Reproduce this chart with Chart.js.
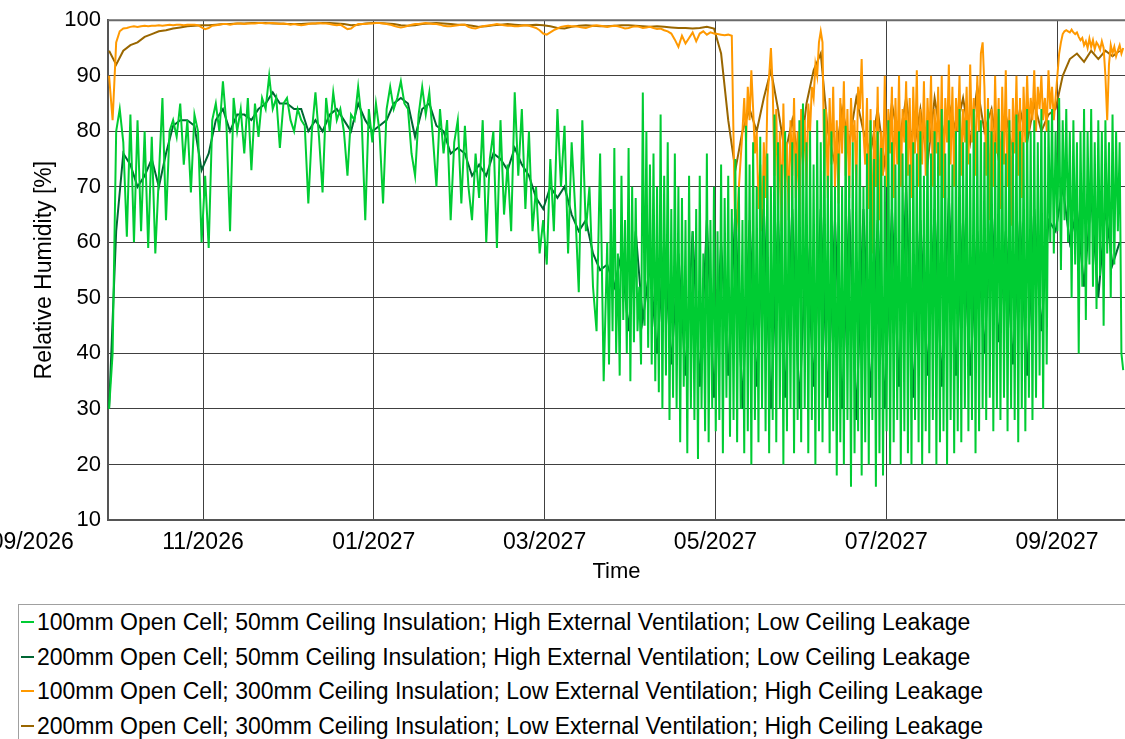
<!DOCTYPE html>
<html lang="en">
<head>
  <meta charset="UTF-8">
  <title>Relative Humidity - Open Cell roof cases</title>
  <script src="https://cdn.jsdelivr.net/npm/chart.js"></script>
  <style>
    body {
      margin: 0;
      width: 1125px;
      height: 739px;
      overflow: hidden;
      position: relative;
      background: #fff;
      font-family: 'Liberation Sans', Arial, sans-serif;
    }
    #chart-box {
      position: absolute;
      left: 0;
      top: 0;
      width: 1125px;
      height: 600px;
    }
    .legend {
      position: absolute;
      left: 18px;
      top: 604px;
      width: 1200px;
      height: 160px;
      border: 1px solid #a0a0a0;
    }
    .legend-row {
      position: absolute;
      left: 0;
      height: 26px;
      line-height: 26px;
      font-size: 23px;
      color: #000;
      white-space: nowrap;
    }
    .legend-mark {
      position: absolute;
      left: 2px;
      top: 12px;
      width: 13px;
      height: 2px;
    }
    .legend-text {
      position: absolute;
      left: 18px;
      top: 0;
    }
  </style>
</head>
<body>

<div id="chart-box">
  <canvas id="chart" width="1125" height="600"></canvas>
</div>
<div class="legend" id="legend"></div>

<script>
  // time axis in months counted from 09/2026
  const T0 = 0.9;
  const X_MIN = 0.8876;
  const X_MAX = 12.796;

  const tickMonths = [0, 2, 4, 6, 8, 10, 12];
  const tickLabels = ['09/2026', '11/2026', '01/2027', '03/2027', '05/2027', '07/2027', '09/2027'];
  const yTicks = [10, 20, 30, 40, 50, 60, 70, 80, 90, 100];

  const seriesLabels = [
    '100mm Open Cell; 50mm Ceiling Insulation; High External Ventilation; Low Ceiling Leakage',
    '200mm Open Cell; 50mm Ceiling Insulation; High External Ventilation; Low Ceiling Leakage',
    '100mm Open Cell; 300mm Ceiling Insulation; Low External Ventilation; High Ceiling Leakage',
    '200mm Open Cell; 300mm Ceiling Insulation; Low External Ventilation; High Ceiling Leakage'
  ];
  const seriesColors = ['#00cc33', '#006633', '#ff9900', '#996600'];

  // 100mm / 50mm / high vent: RH [%] every 1/24 month from T0
  const rh100VentCool = [
    30, 40, 80, 84, 78, 61, 83, 60, 82, 62,
    80, 59, 79, 58, 72, 86, 64, 80, 82, 79,
    85, 74, 82, 69, 83, 80, 60, 72, 59, 82,
    85, 80, 89, 81, 62, 86, 80, 84, 76, 86,
    73, 85, 79, 86, 84, 90, 84, 86, 77, 85,
    86, 82, 80, 84, 82, 81, 67, 80, 87, 79,
    69, 86, 80, 87, 82, 84, 80, 72, 83, 82,
    88, 82, 64, 84, 78, 85, 80, 67, 84, 88,
    84, 86, 89, 85, 84, 76, 72, 83, 88, 83,
    87, 79, 70, 84, 76, 82, 64, 78, 82, 67,
    81, 70, 64, 76, 68, 82, 60, 75, 80, 59,
    82, 65, 74, 62, 87, 72, 84, 66, 80, 62,
    70, 58, 64, 56, 75, 62, 84, 70, 81, 58,
    78, 66, 51, 82, 62, 70, 52, 44, 76, 35
  ];
  // then every 1/48 month from month 6.7333
  const GREEN_WARM_START = 6.7333;
  const rh100VentWarm = [
    60, 38, 66, 44, 77, 40, 58, 36, 72, 46,
    64, 40, 77, 35, 70, 42, 68, 44, 52, 38,
    87, 45, 80, 41, 74, 38, 76, 35, 70, 33,
    83, 30, 72, 36, 78, 28, 66, 32, 76, 30,
    70, 24, 68, 34, 64, 22, 72, 30, 62, 28,
    66, 21, 72, 30, 58, 26, 76, 24, 64, 30,
    70, 26, 62, 28, 74, 22, 68, 32, 72, 25,
    66, 28, 75, 24, 70, 30, 64, 22, 81, 26,
    74, 20, 78, 28, 70, 24, 79, 30, 72, 26,
    76, 22, 70, 28, 83, 24, 78, 30, 74, 20,
    80, 26, 72, 30, 78, 22, 76, 28, 82, 24,
    85, 30, 78, 22, 80, 28, 74, 20, 82, 26,
    78, 24, 84, 30, 72, 22, 80, 26, 70, 18,
    76, 24, 70, 20, 81, 28, 72, 16, 78, 22,
    74, 26, 80, 18, 70, 24, 76, 20, 82, 28,
    75, 16, 80, 22, 77, 18, 72, 26, 82, 20,
    78, 24, 74, 28, 80, 20, 76, 26, 82, 22,
    74, 20, 78, 28, 76, 24, 80, 20, 72, 26,
    82, 22, 76, 28, 80, 20, 78, 24, 84, 26,
    76, 20, 82, 28, 74, 22, 80, 26, 84, 24,
    78, 30, 82, 26, 76, 28, 84, 22, 80, 26,
    82, 30, 78, 28, 84, 32, 80, 26, 78, 30,
    84, 28, 80, 32, 76, 26, 82, 30, 78, 28,
    83, 24, 80, 30, 78, 26, 84, 32, 80, 28,
    82, 32, 78, 36, 84, 30, 80, 38, 82, 60,
    84, 58, 80, 62, 86, 55, 82, 64, 84, 60,
    80, 50, 82, 56, 78, 40, 80, 52, 84, 46,
    80, 56, 84, 52, 78, 48, 82, 54, 80, 45,
    82, 58, 78, 50, 83, 56, 80, 62, 78, 40,
    37
  ];

  // 200mm / 50mm / high vent: RH [%] every 1/12 month from T0
  const rh200Vent = [
    30, 62, 76, 74, 70, 72, 75, 70, 76, 81,
    82, 82, 81, 73, 76, 82, 84, 80, 83, 83,
    82, 84, 85, 87, 85, 85, 84, 84, 80, 82,
    80, 83, 84, 82, 80, 85, 82, 80, 81, 82,
    85, 86, 85, 79, 84, 85, 81, 80, 76, 77,
    76, 72, 74, 72, 76, 75, 73, 77, 74, 72,
    68, 66, 70, 68, 70, 65, 62, 64, 58, 55,
    56, 52, 58, 44, 62, 46, 56, 40, 60, 38,
    58, 36, 62, 34, 64, 32, 60, 36, 66, 30,
    64, 34, 66, 30, 64, 32, 66, 30, 62, 34,
    66, 32, 64, 30, 66, 28, 66, 32, 64, 30,
    66, 34, 70, 32, 64, 36, 66, 34, 68, 36,
    64, 36, 62, 40, 66, 42, 62, 38, 64, 36,
    66, 44, 64, 62, 70, 60, 66, 52, 68, 50,
    66, 56, 60
  ];

  // 100mm / 300mm / low vent: RH [%] every 1/24 month from T0
  const rh100LeakCool = [
    90, 82, 96, 98, 98.5, 98.6, 98.8, 98.9, 98.8, 98.9,
    99, 98.9, 99, 99, 99.1, 99, 99.1, 99.2, 99.1, 99.2,
    99.2, 99.1, 99.2, 99.2, 99.2, 99.1, 98.7, 98.4, 98.6, 99,
    99.1, 99.2, 99.3, 99.3, 99.2, 99.3, 99.4, 99.4, 99.3, 99.4,
    99.4, 99.4, 99.5, 99.5, 99.4, 99.5, 99.5, 99.4, 99.3, 99.4,
    99.3, 99.2, 99.3, 99.2, 99.1, 99.2, 99.3, 99.4, 99.4, 99.5,
    99.4, 99.4, 99.3, 99.2, 99.1, 99.2, 98.8, 98.4, 98.5, 99,
    99.3, 99.3, 99.3, 99.4, 99.4, 99.5, 99.5, 99.4, 99.3, 99.2,
    99, 98.8, 98.7, 98.8, 99, 99.2, 99.3, 99.3, 99.4, 99.5,
    99.4, 99.3, 99.3, 99.2, 99, 98.9, 98.9, 99, 99.1, 99.2,
    99.2, 98.8, 98.6, 98.5, 98.7, 98.9, 99, 99.1, 99.2, 99.3,
    99.2, 99.1, 99, 99, 98.9, 98.9, 99, 99.1, 99, 98.8,
    98.6, 98.2, 97.6, 97.4, 97.8, 98.2, 98.5, 98.8, 98.9, 99,
    98.9, 98.9, 98.8, 98.7, 98.6, 98.8, 99, 99.1, 99, 98.9,
    98.8, 98.9, 99, 98.9, 98.7, 98.5, 98.6, 98.8, 98.9, 98.8,
    98.6, 98.7, 98.8, 98.6, 98.4, 98.5, 98.2, 98, 97.6, 96.5,
    95.2, 97.2, 95.8, 96.8, 97.8, 96.2, 97.6, 98, 97.4, 97.8,
    97.6, 97.5, 97.4, 97.3, 97.4, 97.2
  ];
  // then every 1/48 month from month 8.2333
  const ORANGE_WARM_START = 8.2333;
  const rh100LeakWarm = [
    60, 64, 70, 75, 80, 86, 78, 88, 82, 91,
    84, 76, 80, 66, 74, 62, 78, 68, 86, 90,
    95, 88, 72, 84, 66, 80, 62, 85, 70, 78,
    64, 82, 72, 86, 68, 80, 63, 84, 74, 82,
    70, 85, 80, 88, 86, 92, 90, 96, 98, 96,
    72, 84, 68, 86, 74, 88, 70, 82, 67, 86,
    76, 89, 72, 84, 68, 86, 78, 82, 70, 88,
    84, 93, 80, 74, 86, 66, 84, 58, 82, 70,
    88, 64, 80, 72, 90, 70, 84, 76, 88, 68,
    86, 74, 90, 70, 84, 78, 89, 72, 86, 68,
    88, 76, 91, 70, 84, 74, 89, 72, 86, 78,
    90, 70, 84, 76, 88, 72, 90, 68, 86, 78,
    92, 74, 88, 70, 86, 80, 90, 72, 84, 78,
    88, 74, 92, 78, 86, 72, 90, 80, 94, 96,
    88, 72, 86, 64, 84, 70, 90, 76, 86, 66,
    88, 74, 91, 70, 84, 63, 86, 76, 90, 72,
    86, 68, 88, 78, 90, 80, 86, 82, 91, 80,
    88, 84, 90, 82, 86, 80, 91, 84, 88, 82,
    86, 90, 94, 96, 97.5, 98, 98.2, 98, 97.8, 98.3,
    97.8, 97.5, 97.8, 97, 96.4, 96.8, 95.5, 96.2, 95, 96.7,
    95.2, 96.4, 94.8, 96, 95.5, 94.7, 96.2, 95, 90, 82,
    92, 95.5, 94, 95.2, 93.5, 94.6, 95.5, 94, 95
  ];

  // 200mm / 300mm / low vent: RH [%] every 1/12 month from T0
  const rh200Leak = [
    94.5, 92, 94.5, 95.5, 96, 97, 97.5, 98, 98.2, 98.5,
    98.7, 98.9, 99, 99.1, 99.1, 99.2, 99.3, 99.3, 99.4, 99.4,
    99.5, 99.5, 99.5, 99.4, 99.4, 99.3, 99.3, 99.3, 99.4, 99.4,
    99.5, 99.5, 99.4, 99.3, 99.1, 99.2, 99.4, 99.5, 99.5, 99.4,
    99.3, 99.1, 99, 99.1, 99.3, 99.4, 99.5, 99.4, 99.3, 99.2,
    99.2, 99, 98.8, 98.9, 99.1, 99.2, 99.3, 99.2, 99.1, 99.1,
    99.2, 99.1, 98.9, 98.6, 98.5, 98.8, 99, 99.1, 99, 98.9,
    98.9, 99, 99.1, 99.1, 99, 98.9, 98.8, 98.9, 98.8, 98.7,
    98.6, 98.6, 98.5, 98.6, 98.8, 98.5, 94, 82, 73, 80,
    84, 80, 86, 91, 84, 76, 82, 74, 85, 91,
    94, 80, 74, 84, 78, 86, 80, 76, 84, 74,
    85, 78, 86, 76, 84, 74, 86, 78, 85, 80,
    86, 78, 88, 80, 84, 75, 83, 76, 84, 78,
    85, 80, 83, 84, 90, 93, 94, 92.5, 94.5, 93,
    94.5, 93.5, 94.5
  ];

  function toPoints(values, start, step) {
    return values.map((v, i) => ({ x: start + i * step, y: v }));
  }

  const seriesPoints = [
    toPoints(rh100VentCool, T0, 1 / 24).concat(toPoints(rh100VentWarm, GREEN_WARM_START, 1 / 48)),
    toPoints(rh200Vent, T0, 1 / 12),
    toPoints(rh100LeakCool, T0, 1 / 24).concat(toPoints(rh100LeakWarm, ORANGE_WARM_START, 1 / 48)),
    toPoints(rh200Leak, T0, 1 / 12)
  ];

  // legend below the plot, drawn as plain html
  const legendBox = document.getElementById('legend');
  seriesLabels.forEach((label, k) => {
    const row = document.createElement('div');
    row.className = 'legend-row';
    row.style.top = (4 + k * 34.5) + 'px';
    row.innerHTML = '<span class="legend-mark" style="background:' + seriesColors[k] + '"></span>' +
      '<span class="legend-text">' + label + '</span>';
    legendBox.appendChild(row);
  });

  const FONT = "'Liberation Sans', Arial, sans-serif";
  const X_TICK_PAD = 9;
  const X_TICK_SIZE = 23;

  const frameAndEdgeLabel = {
    id: 'frameAndEdgeLabel',
    afterDraw(chart) {
      const { ctx, chartArea, scales } = chart;
      ctx.save();
      ctx.strokeStyle = '#6a6a6a';
      ctx.lineWidth = 2;
      ctx.beginPath();
      ctx.moveTo(chartArea.left, chartArea.top);
      ctx.lineTo(chartArea.right, chartArea.top);
      ctx.stroke();
      // the first month label sits left of the plot area, clipped by the page
      ctx.font = X_TICK_SIZE + 'px ' + FONT;
      ctx.fillStyle = '#000';
      ctx.textAlign = 'center';
      ctx.textBaseline = 'middle';
      ctx.fillText(tickLabels[0], scales.x.getPixelForValue(tickMonths[0]),
        chartArea.bottom + X_TICK_PAD + X_TICK_SIZE * 1.2 / 2);
      ctx.restore();
    }
  };

  const chartData = {
    datasets: seriesLabels.map((label, k) => ({
      label: label,
      data: seriesPoints[k],
      borderColor: seriesColors[k],
      backgroundColor: seriesColors[k],
      borderWidth: 2,
      pointRadius: 0,
      tension: 0
    }))
  };

  new Chart(document.getElementById('chart'), {
    type: 'line',
    data: chartData,
    plugins: [frameAndEdgeLabel],
    options: {
      responsive: false,
      animation: false,
      layout: { padding: { top: 16, right: 0, bottom: 0, left: 0 } },
      plugins: {
        legend: { display: false },
        tooltip: { enabled: false }
      },
      scales: {
        x: {
          type: 'linear',
          min: X_MIN,
          max: X_MAX,
          afterFit(scale) { scale.height = 80; },
          afterBuildTicks(scale) {
            scale.ticks = tickMonths.filter(m => m >= X_MIN).map(m => ({ value: m }));
          },
          ticks: {
            autoSkip: false,
            maxRotation: 0,
            padding: X_TICK_PAD,
            color: '#000',
            font: { size: X_TICK_SIZE, family: FONT },
            callback: (value) => tickLabels[tickMonths.indexOf(value)]
          },
          grid: { color: '#404040', lineWidth: 1, drawTicks: false },
          border: { color: '#555', width: 2 },
          title: {
            display: true,
            text: 'Time',
            color: '#000',
            font: { size: 22, family: FONT },
            padding: { top: 0, bottom: 15 }
          }
        },
        y: {
          min: 10,
          max: 100,
          afterFit(scale) { scale.width = 108; },
          afterBuildTicks(scale) {
            scale.ticks = yTicks.map(v => ({ value: v }));
          },
          ticks: {
            padding: 7,
            color: '#000',
            font: { size: 22, family: FONT }
          },
          grid: { color: '#404040', lineWidth: 1, drawTicks: false },
          border: { color: '#555', width: 2 },
          title: {
            display: true,
            text: 'Relative Humidity [%]',
            color: '#000',
            font: { size: 23, family: FONT },
            padding: { top: 31, bottom: 0 }
          }
        }
      }
    }
  });
</script>

</body>
</html>
